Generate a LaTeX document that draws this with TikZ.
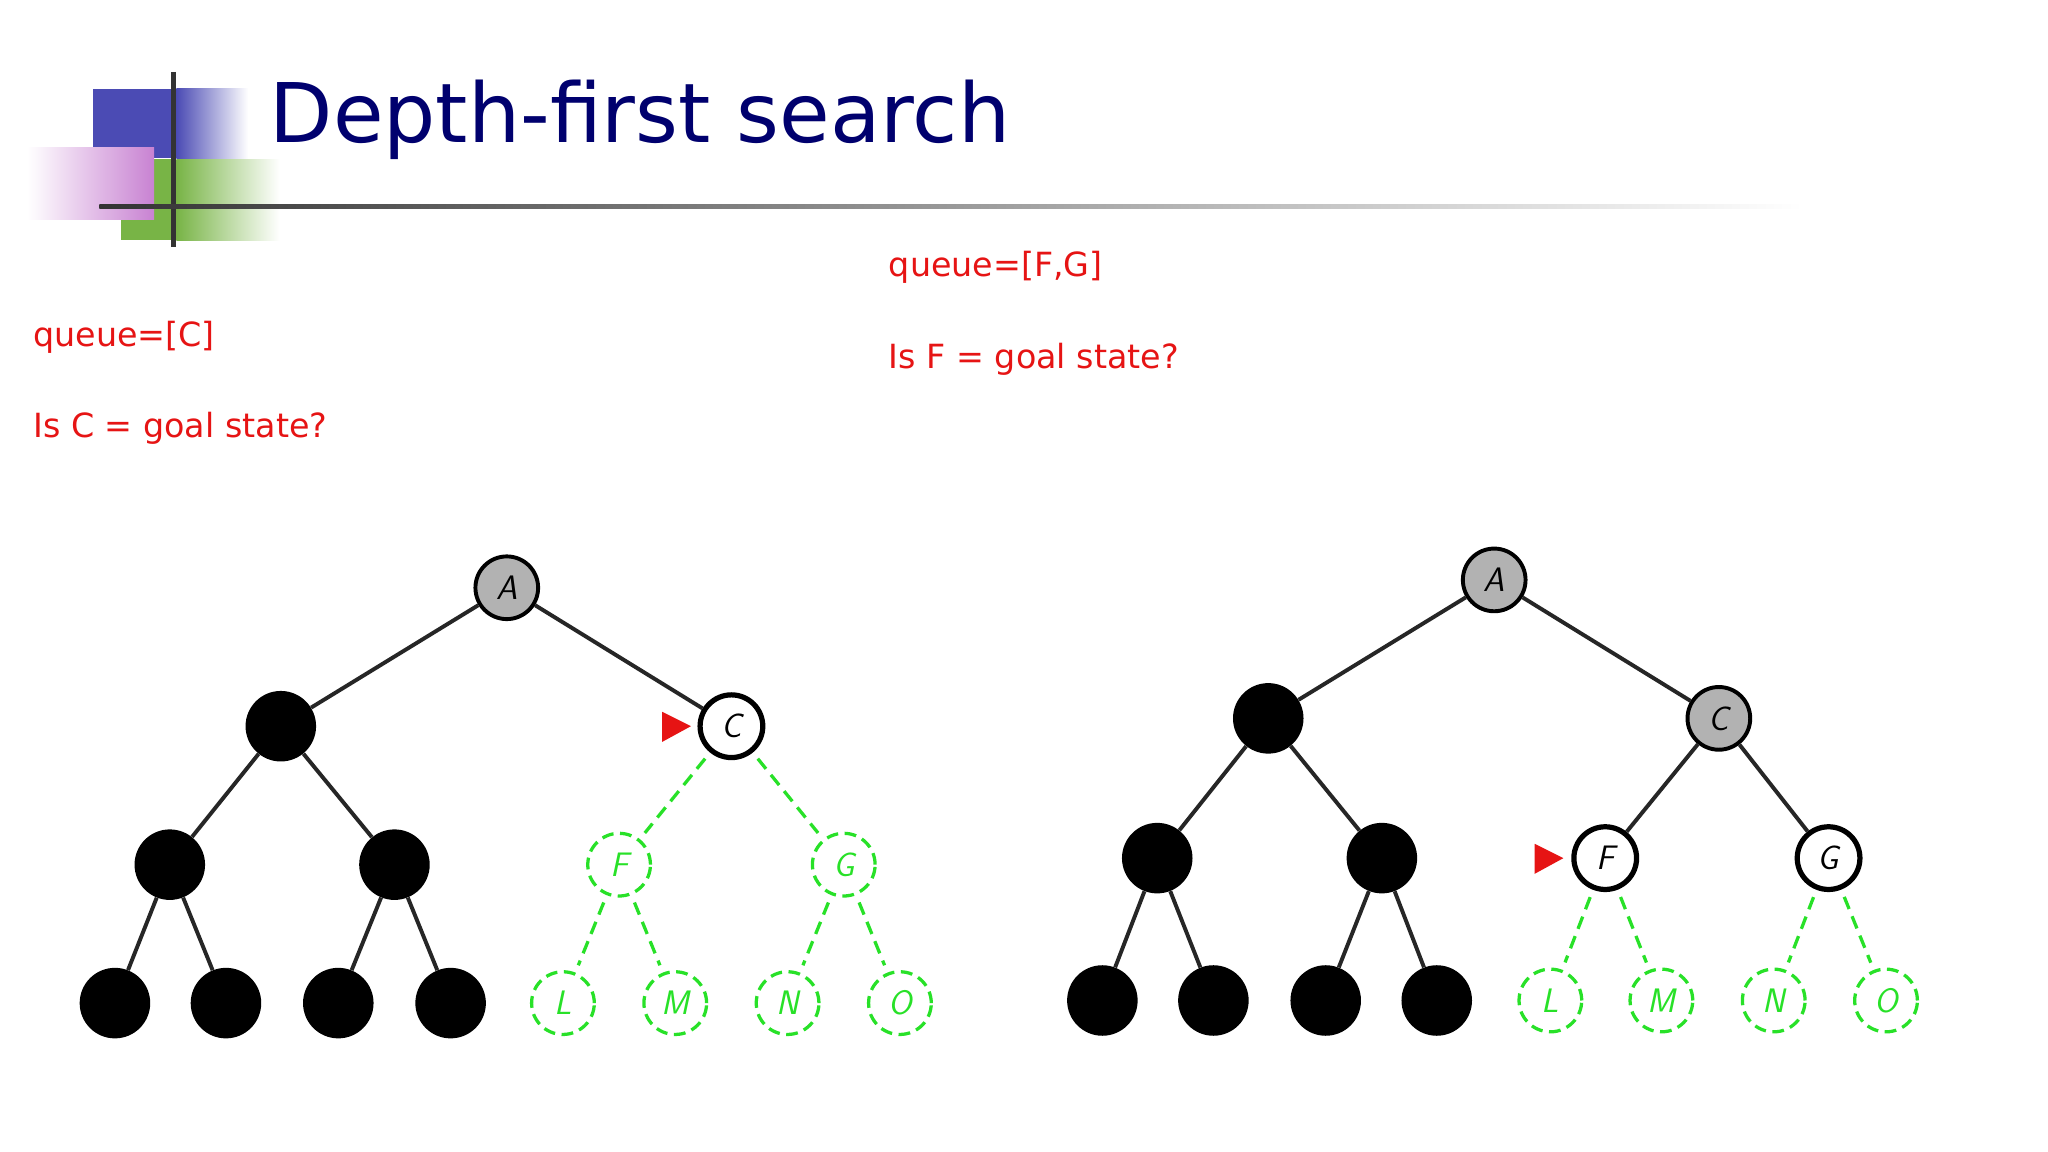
\documentclass[tikz,border=0pt]{standalone}
\usepackage{fontspec}
\setmainfont{DejaVu Sans}
\usetikzlibrary{shadings}
\definecolor{titleblue}{RGB}{0,0,110}
\definecolor{qred}{RGB}{230,20,20}
\definecolor{lgreen}{RGB}{40,225,40}
\definecolor{lblue}{RGB}{75,75,180}
\definecolor{lgr}{RGB}{120,180,70}
\definecolor{lpur}{RGB}{200,130,210}
\tikzset{
  blk/.style={circle,fill=black,minimum size=54pt,inner sep=0pt},
  gry/.style={circle,fill=gray!60,draw=black,line width=3pt,minimum size=48pt,inner sep=0pt,font=\sffamily\itshape\fontsize{26}{26}\selectfont},
  wht/.style={circle,fill=white,draw=black,line width=4pt,minimum size=48pt,inner sep=0pt,font=\sffamily\itshape\fontsize{26}{26}\selectfont},
  grn/.style={circle,draw=lgreen,dashed,dash pattern=on 9pt off 5pt,line width=2.5pt,minimum size=48pt,inner sep=0pt,text=lgreen,font=\sffamily\itshape\fontsize{26}{26}\selectfont},
  edge/.style={line width=3pt,black!85},
  gedge/.style={line width=2.5pt,lgreen,dashed,dash pattern=on 10pt off 6pt,shorten <=6pt,shorten >=6pt},
  qtext/.style={anchor=west,text=qred,font=\fontsize{25.5}{25.5}\selectfont}
}
\begin{document}
\begin{tikzpicture}[x=1pt,y=-1pt]
\useasboundingbox[fill=white] (0,0) rectangle (1568,882);
% logo
\shade[left color=lblue,right color=white,shading=axis] (135,68) rectangle (190,121);
\fill[lblue] (71,68) rectangle (135,121);
\shade[left color=lgr,right color=white] (135,122) rectangle (214,184);
\fill[lgr] (93,122) rectangle (135,184);
\shade[left color=white,right color=lpur] (21,113) rectangle (118,168);
\draw[line width=3.5pt,black!80] (133,55) -- (133,189);
\shade[left color=black!80,right color=white] (76,156.5) rectangle (1380,160);
\node[anchor=west,text=titleblue,font=\fontsize{63}{63}\selectfont] (title) at (203,92) {Depth-first search};
% texts
\node[qtext] (q1) at (22,258) {queue=[C]};
\node[qtext] (g1) at (22,328) {Is C = goal state?};
\node[qtext] (q2) at (677,205) {queue=[F,G]};
\node[qtext] (g2) at (677,275) {Is F = goal state?};
% left tree
\node[gry] (A) at (388,450) {A};
\node[blk] (B) at (215,556) {};
\node[wht] (C) at (560,556) {C};
\node[blk] (D) at (130,662) {};
\node[blk] (E) at (302,662) {};
\node[grn] (F) at (474,662) {F};
\node[grn] (G) at (646,662) {G};
\node[blk] (H) at (88,768) {};
\node[blk] (I) at (173,768) {};
\node[blk] (J) at (259,768) {};
\node[blk] (K) at (345,768) {};
\node[grn] (L) at (431,768) {L};
\node[grn] (M) at (517,768) {M};
\node[grn] (N) at (603,768) {N};
\node[grn] (O) at (689,768) {O};
\draw[edge] (A) -- (B); \draw[edge] (A) -- (C);
\draw[edge] (B) -- (D); \draw[edge] (B) -- (E);
\draw[edge] (D) -- (H); \draw[edge] (D) -- (I);
\draw[edge] (E) -- (J); \draw[edge] (E) -- (K);
\draw[gedge] (C) -- (F); \draw[gedge] (C) -- (G);
\draw[gedge] (F) -- (L); \draw[gedge] (F) -- (M);
\draw[gedge] (G) -- (N); \draw[gedge] (G) -- (O);
\fill[qred] (507,545) -- (529,556) -- (507,568) -- cycle;
% right tree
\node[gry] (A2) at (1144,444) {A};
\node[blk] (B2) at (971,550) {};
\node[gry] (C2) at (1316,550) {C};
\node[blk] (D2) at (886,657) {};
\node[blk] (E2) at (1058,657) {};
\node[wht] (F2) at (1229,657) {F};
\node[wht] (G2) at (1400,657) {G};
\node[blk] (H2) at (844,766) {};
\node[blk] (I2) at (929,766) {};
\node[blk] (J2) at (1015,766) {};
\node[blk] (K2) at (1100,766) {};
\node[grn] (L2) at (1187,766) {L};
\node[grn] (M2) at (1272,766) {M};
\node[grn] (N2) at (1358,766) {N};
\node[grn] (O2) at (1444,766) {O};
\draw[edge] (A2) -- (B2); \draw[edge] (A2) -- (C2);
\draw[edge] (B2) -- (D2); \draw[edge] (B2) -- (E2);
\draw[edge] (D2) -- (H2); \draw[edge] (D2) -- (I2);
\draw[edge] (E2) -- (J2); \draw[edge] (E2) -- (K2);
\draw[edge] (C2) -- (F2); \draw[edge] (C2) -- (G2);
\draw[gedge] (F2) -- (L2); \draw[gedge] (F2) -- (M2);
\draw[gedge] (G2) -- (N2); \draw[gedge] (G2) -- (O2);
\fill[qred] (1175,646) -- (1197,657) -- (1175,669) -- cycle;
\end{tikzpicture}
\end{document}
